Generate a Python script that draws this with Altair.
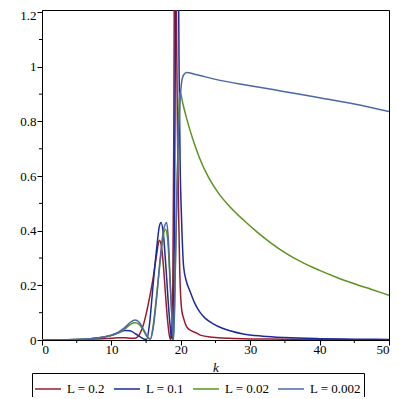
import altair as alt
import pandas as pd

labels = ["L = 0.2", "L = 0.1", "L = 0.02", "L = 0.002"]
colors = ["#9b1b2b", "#1b2a9c", "#5b9420", "#4a68a8"]

k_r = [0, 3, 6, 8, 10, 11, 12, 12.7, 13.3, 13.8, 14.2, 14.6, 15.0, 15.5, 16.0, 16.5, 16.9, 17.2, 17.5, 17.8, 18.1, 18.3, 18.5, 18.7, 18.85, 19.0, 19.1, 19.2, 19.3, 19.4, 19.55, 19.7, 19.85, 20.0, 20.13, 20.4, 20.85, 21.5, 22.3, 22.8, 24.6, 27, 30, 35, 40, 45, 50]
v_r = [0, 0.001, 0.002, 0.004, 0.006, 0.008, 0.008, 0.006, 0.006, 0.012, 0.028, 0.055, 0.095, 0.155, 0.225, 0.31, 0.365, 0.345, 0.27, 0.165, 0.07, 0.025, 0.002, 0.05, 0.2, 0.8, 1.6, 2.5, 1.6, 1.1, 0.7, 0.45, 0.25, 0.15, 0.11, 0.08, 0.048, 0.034, 0.025, 0.018, 0.01, 0.006, 0.004, 0.003, 0.002, 0.001, 0.001]

k_b = [0, 3, 5, 7, 9, 10, 11, 12, 12.7, 13.5, 14.3, 14.8, 15.1, 15.5, 16.0, 16.5, 16.9, 17.15, 17.5, 17.9, 18.3, 18.6, 18.8, 19.0, 19.1, 19.2, 19.3, 19.45, 19.6, 19.75, 19.9, 20.1, 20.4, 20.8, 21.3, 22.0, 22.8, 23.5, 24.6, 26, 27.1, 29, 31.8, 35, 40, 45, 50]
v_b = [0, 0.001, 0.002, 0.005, 0.011, 0.017, 0.026, 0.035, 0.034, 0.022, 0.009, 0.003, 0.003, 0.06, 0.2, 0.33, 0.415, 0.43, 0.385, 0.25, 0.1, 0.02, 0.002, 0.2, 0.5, 1.0, 1.6, 2.5, 1.6, 1.0, 0.65, 0.45, 0.27, 0.215, 0.18, 0.135, 0.1, 0.08, 0.06, 0.043, 0.034, 0.022, 0.014, 0.009, 0.005, 0.003, 0.002]

k_g = [0, 3, 5, 7, 9, 10, 11, 12, 12.8, 13.4, 14.0, 14.6, 15.2, 15.6, 16.0, 16.5, 17.0, 17.4, 17.8, 18.1, 18.4, 18.7, 18.95, 19.2, 19.5, 19.75, 19.9, 20.3, 20.8, 21.3, 22.0, 22.8, 24.0, 25.5, 27.0, 29.0, 31.0, 33.0, 35.0, 37.5, 40.0, 42.5, 45.0, 47.5, 50.0]
v_g = [0, 0.001, 0.002, 0.005, 0.011, 0.016, 0.026, 0.042, 0.058, 0.063, 0.057, 0.035, 0.01, 0.003, 0.05, 0.16, 0.28, 0.37, 0.405, 0.37, 0.24, 0.09, 0.002, 0.25, 0.6, 0.86, 0.908, 0.865, 0.815, 0.77, 0.715, 0.66, 0.595, 0.535, 0.49, 0.44, 0.395, 0.355, 0.32, 0.284, 0.255, 0.229, 0.206, 0.185, 0.164]

k_s = [0, 3, 5, 7, 9, 10, 11, 12, 12.8, 13.4, 14.0, 14.6, 15.2, 15.6, 16.0, 16.5, 17.0, 17.5, 17.96, 18.2, 18.5, 18.8, 18.97, 19.2, 19.4, 19.6, 19.8, 20.1, 20.4, 20.85, 22, 25, 30, 35, 40, 45, 50]
v_s = [0, 0.001, 0.002, 0.005, 0.012, 0.018, 0.029, 0.047, 0.066, 0.073, 0.065, 0.04, 0.012, 0.003, 0.04, 0.15, 0.29, 0.4, 0.43, 0.37, 0.2, 0.05, 0.002, 0.25, 0.5, 0.7, 0.83, 0.94, 0.97, 0.979, 0.973, 0.954, 0.931, 0.909, 0.887, 0.864, 0.836]

x_major = [0, 10, 20, 30, 40, 50]
x_minor = [5, 15, 25, 35, 45]
y_major = [0, 0.2, 0.4, 0.6, 0.8, 1.0, 1.2]
y_minor = [0.1, 0.3, 0.5, 0.7, 0.9, 1.1]

rows = []
for lab, ks, vs in zip(labels, [k_r, k_b, k_g, k_s], [v_r, v_b, v_g, v_s]):
    for k, v in zip(ks, vs):
        rows.append({"k": k, "v": v, "s": lab})
df = pd.DataFrame(rows)

FONT = "Liberation Serif"
W, H = 347, 330

xs = alt.Scale(domain=[0, 50], nice=False, zero=False)
ys = alt.Scale(domain=[0, 1.208], nice=False)

lines = alt.Chart(df).mark_line(clip=True, strokeWidth=1.5, interpolate="monotone").encode(
    x=alt.X("k:Q", scale=xs, title="k",
            axis=alt.Axis(values=x_major, format="d", tickSize=5, labelPadding=-2,
                          titleFontStyle="italic", titleFontWeight="normal",
                          titleY=21, titleBaseline="top")),
    y=alt.Y("v:Q", scale=ys, title=None,
            axis=alt.Axis(values=y_major, format="~g", tickSize=5, labelPadding=1,
                          labelOffset={"condition": {"test": "datum.value > 1.1", "value": 3},
                                       "value": 0})),
    color=alt.Color("s:N", scale=alt.Scale(domain=labels, range=colors),
                    legend=alt.Legend(orient="none", legendX=-10, legendY=363,
                                      direction="horizontal", columns=4, title=None,
                                      symbolType="stroke", symbolSize=676,
                                      symbolStrokeWidth=1.5, labelFont=FONT,
                                      labelFontSize=13, labelColor="black",
                                      strokeColor="black", padding=2,
                                      columnPadding=5, labelOffset=5)),
    order=alt.Order("k:Q"),
)

xminor = alt.Chart(pd.DataFrame({"m": x_minor})).mark_rule(color="black", strokeWidth=1).encode(
    x=alt.X("m:Q", scale=xs, axis=None), y=alt.value(H), y2=alt.value(H + 3))
yminor = alt.Chart(pd.DataFrame({"m": y_minor})).mark_rule(color="black", strokeWidth=1).encode(
    y=alt.Y("m:Q", scale=ys, axis=None), x=alt.value(0), x2=alt.value(-3))

chart = alt.layer(lines, xminor, yminor).resolve_axis(
    x="independent", y="independent"
).properties(
    width=W, height=H,
    autosize=alt.AutoSizeParams(type="none"),
    padding={"left": 34, "top": 2, "right": 2, "bottom": 57},
).configure_view(stroke="black", strokeWidth=1).configure_axis(
    domainColor="black", tickColor="black", labelColor="black", titleColor="black",
    labelFont=FONT, titleFont=FONT, labelFontSize=13, titleFontSize=13, grid=False,
)

chart.save("out.html", embed_options={"renderer": "svg", "actions": False})
